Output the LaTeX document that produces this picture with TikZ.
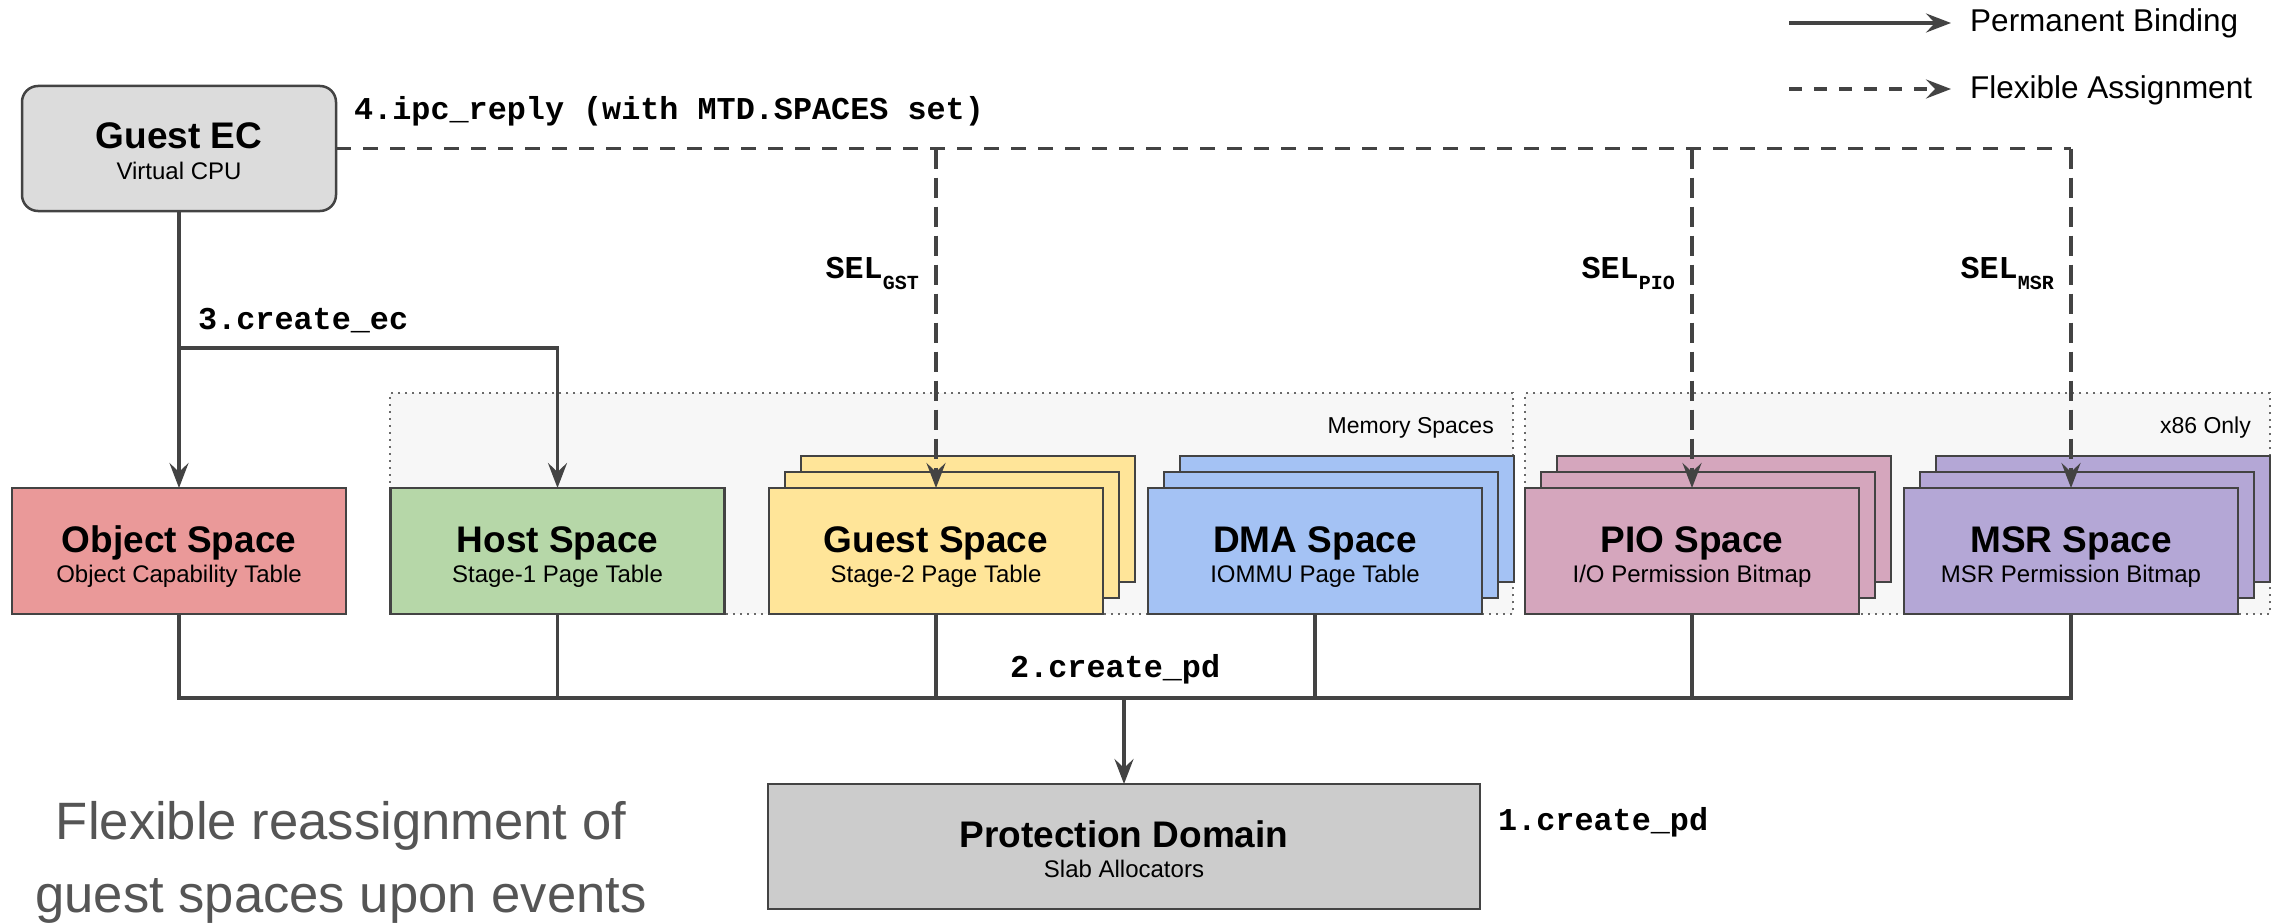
\documentclass[tikz,border=0pt]{standalone}
\usepackage{fontspec}
\setmainfont{Liberation Sans}
\setmonofont{Liberation Mono}
\usetikzlibrary{arrows.meta}

\pgfdeclarelayer{groups}
\pgfdeclarelayer{stack}
\pgfsetlayers{groups,stack,main}

\definecolor{ink}{HTML}{434343}
\definecolor{cObj}{HTML}{EA9999}
\definecolor{cHost}{HTML}{B6D7A8}
\definecolor{cGuest}{HTML}{FFE599}
\definecolor{cDMA}{HTML}{A4C2F4}
\definecolor{cPIO}{HTML}{D5A6BD}
\definecolor{cMSR}{HTML}{B4A7D6}
\definecolor{cEC}{HTML}{DCDCDC}
\definecolor{cPD}{HTML}{CCCCCC}
\definecolor{cGroup}{HTML}{F7F7F7}
\definecolor{cGroupLine}{HTML}{6A6A6A}
\definecolor{cNote}{HTML}{555555}

% subscript for selector labels
\newcommand\selsub[1]{\raisebox{-11pt}{\fontsize{20}{20}\selectfont #1}}

% two extra copies of a space box, stacked behind it
\newcommand\stackedcopies[2]{%
  \begin{pgfonlayer}{stack}
    \foreach \d in {32,16}{
      \draw[frame, fill=#2] ([shift={(\d,-\d)}]#1.south west) rectangle ([shift={(\d,-\d)}]#1.north east);
    }
  \end{pgfonlayer}}

% a space box with its title and subtitle
\newcommand\spacenode[6]{%
  \node[spacebox, fill=#4] (#1) at (#2,#3) {};
  \node[ttl] (#1-t) at ([yshift=-1pt]#1.center) {#5};
  \node[subt] (#1-s) at ([yshift=-31pt]#1.center) {#6};}

\tikzset{
  frame/.style={draw=ink, line width=2.5pt},
  spacebox/.style={frame, minimum width=334pt, minimum height=126pt, inner sep=0pt, outer sep=0pt},
  ttl/.style={font=\bfseries\fontsize{37}{44}\selectfont, anchor=base, inner sep=0pt},
  subt/.style={font=\fontsize{24}{28}\selectfont, anchor=base, inner sep=0pt},
  code/.style={font=\ttfamily\bfseries\fontsize{31.8}{36}\selectfont, inner sep=0pt},
  legendtext/.style={font=\fontsize{31.5}{36}\selectfont, inner sep=0pt, anchor=base west},
  grouplabel/.style={font=\fontsize{23}{26}\selectfont, inner sep=0pt, anchor=base east},
  groupbox/.style={draw=cGroupLine, fill=cGroup, line width=2pt, dash pattern=on 2pt off 5pt, inner sep=0pt, outer sep=0pt},
  wire/.style={draw=ink, line width=3.5pt},
  tip/.style={-{Stealth[length=25pt,width=19pt,inset=9pt]}},
  flexh/.style={dash pattern=on 15pt off 12pt},
  flexv/.style={dash pattern=on 20pt off 9pt},
}

\begin{document}
\begin{tikzpicture}[x=1pt,y=-1pt]
\useasboundingbox (0,0) rectangle (2285,923);

% grouping frames
\begin{pgfonlayer}{groups}
  \node[groupbox, minimum width=1123pt, minimum height=221pt] (memgrp) at (951.5,503.5) {};
  \node[groupbox, minimum width=745pt, minimum height=221pt] (x86grp) at (1897.5,503.5) {};
\end{pgfonlayer}
\node[grouplabel] (memlbl) at (1494,433) {Memory Spaces};
\node[grouplabel] (x86lbl) at (2251,433) {x86 Only};

% guest execution context
\node[frame, fill=cEC, rounded corners=16pt, minimum width=314pt, minimum height=125pt, inner sep=0pt, outer sep=0pt] (gec) at (179,148.5) {};
\node[ttl] (gec-t) at (gec.center) {Guest EC};
\node[subt] (gec-s) at ([yshift=-31pt]gec.center) {Virtual CPU};

% spaces
\spacenode{obj}{179}{551}{cObj}{Object Space}{Object Capability Table}
\spacenode{host}{557.5}{551}{cHost}{Host Space}{Stage-1 Page Table}
\spacenode{gst}{936}{551}{cGuest}{Guest Space}{Stage-2 Page Table}
\spacenode{dma}{1315}{551}{cDMA}{DMA Space}{IOMMU Page Table}
\spacenode{pio}{1692}{551}{cPIO}{PIO Space}{I/O Permission Bitmap}
\spacenode{msr}{2071}{551}{cMSR}{MSR Space}{MSR Permission Bitmap}
\stackedcopies{gst}{cGuest}
\stackedcopies{dma}{cDMA}
\stackedcopies{pio}{cPIO}
\stackedcopies{msr}{cMSR}

% protection domain
\node[frame, fill=cPD, minimum width=712pt, minimum height=125pt, inner sep=0pt, outer sep=0pt] (pd) at (1124,846.5) {};
\node[ttl] (pd-t) at ([yshift=-1pt]pd.center) {Protection Domain};
\node[subt] (pd-s) at ([yshift=-31pt]pd.center) {Slab Allocators};

% 2.create_pd: every space is bound to the protection domain
\coordinate (bus) at (1124,698);
\draw[wire, line width=4pt] (obj.south) |- (bus) -| (msr.south);
\foreach \s in {host,gst,dma,pio}{
  \draw[wire] (\s.south) -- (\s.south |- bus);
}
\draw[wire, tip] (bus) -- (pd.north);

% 3.create_ec: the EC is bound to object and host space
\coordinate (ecsplit) at (179,348);
\draw[wire, tip] (gec.south) -- (obj.north);
\draw[wire, tip] (ecsplit) -| (host.north);

% 4.ipc_reply: guest spaces assigned via selectors
\coordinate (gstsplit) at (gst.north |- gec.east);
\coordinate (piosplit) at (pio.north |- gec.east);
\coordinate (msrsplit) at (msr.north |- gec.east);
\draw[wire, flexh] (gec.east) -- (msrsplit);
\draw[wire, flexv, tip] (gstsplit) -- (gst.north);
\draw[wire, flexv, tip] (piosplit) -- (pio.north);
\draw[wire, flexv, tip] (msrsplit) -- (msr.north);

% operation labels
\node[code, anchor=base west] (lblipc) at (354,120) {4.ipc\_reply (with MTD.SPACES set)};
\node[code, anchor=base west] (lblec) at (198,329) {3.create\_ec};
\node[code, anchor=base west] (lblpd2) at (1010,677) {2.create\_pd};
\node[code, anchor=base west] (lblpd1) at (1498,830) {1.create\_pd};
\node[code, anchor=base east] (selgst) at (919,278) {SEL\selsub{GST}};
\node[code, anchor=base east] (selpio) at (1675,278) {SEL\selsub{PIO}};
\node[code, anchor=base east] (selmsr) at (2054,278) {SEL\selsub{MSR}};

% legend
\coordinate (lgS1) at (1789,23);
\coordinate (lgS2) at (1951,23);
\coordinate (lgF1) at (1789,89);
\coordinate (lgF2) at (1951,89);
\draw[wire, tip] (lgS1) -- (lgS2);
\draw[wire, dash pattern=on 13pt off 12pt, tip] (lgF1) -- (lgF2);
\node[legendtext] (lgT1) at (1970,32) {Permanent Binding};
\node[legendtext] (lgT2) at (1970,99) {Flexible Assignment};

% caption
\node[font=\fontsize{52.6}{73}\selectfont, text=cNote, inner sep=0pt, anchor=base] (note1) at (341,839) {Flexible reassignment of};
\node[font=\fontsize{52.6}{73}\selectfont, text=cNote, inner sep=0pt, anchor=base] (note2) at (341,912) {guest spaces upon events};
\end{tikzpicture}
\end{document}
